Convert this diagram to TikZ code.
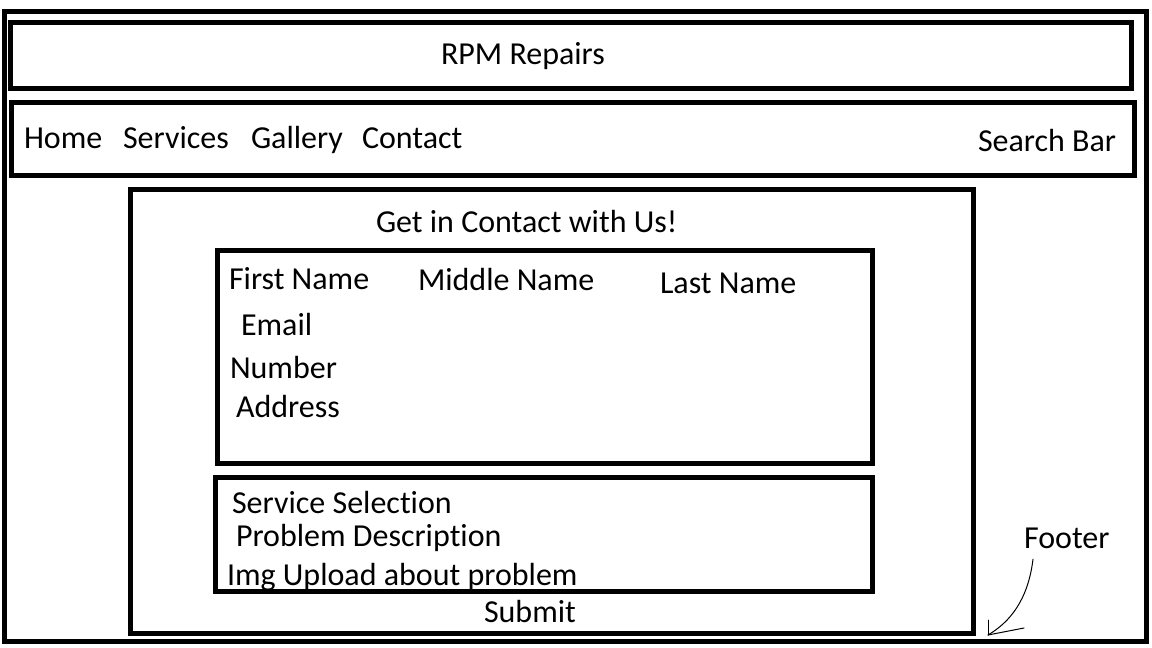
\documentclass[tikz,border=0pt]{standalone}
\usepackage{fontspec}
\setmainfont[Ligatures=NoCommon]{Carlito}
\usepackage[usenames]{xcolor}
\usetikzlibrary{calc,positioning}

\begin{document}
\begin{tikzpicture}[x=1pt,y=-1pt,
  boxline/.style={draw=drawColor,line width= 5.0pt,line join=miter},
  label/.style={text=drawColor,anchor=base west,inner sep=0pt, outer sep=0pt,
    font=\fontsize{32}{36}\selectfont},
  pointer/.style={draw=drawColor,line width= 1.0pt,line join=round,line cap=round}]
\definecolor{fillColor}{RGB}{255,255,255}
\definecolor{drawColor}{RGB}{0,0,0}
\path[use as bounding box,fill=fillColor] (0,0) rectangle (1152,648);

% frames
\path[boxline] (   4.0, 11.0) rectangle (1146.0,641.0);
\path[boxline] (  10.5, 22.0) rectangle (1131.5, 88.0);
\path[boxline] (  11.5,102.5) rectangle (1134.5,175.5);
\path[boxline] ( 130.5,189.5) rectangle ( 973.5,633.5);
\path[boxline] ( 217.5,250.5) rectangle ( 872.0,463.5);
\path[boxline] ( 215.5,477.5) rectangle ( 872.0,591.5);

% header and menu
\node[label] (title) at ( 441, 64) {RPM Repairs};
\node[label] (home) at (  24,148) {Home};
\node[label] (services) at ( 123,148) {Services};
\node[label] (gallery) at ( 251,148) {Gallery};
\node[label] (contact) at ( 362,148) {Contact};
\node[label] (search) at ( 978,151) {Search Bar};

% form
\node[label] (heading) at ( 376,232) {Get in Contact with Us!};
\node[label] (first) at ( 229,289) {First Name};
\node[label] (middle) at ( 418,290) {Middle Name};
\node[label] (last) at ( 660,293) {Last Name};
\node[label] (email) at ( 241,335) {Email};
\node[label] (number) at ( 230,378) {Number};
\node[label] (address) at ( 236,417) {Address};
\node[label] (selection) at ( 232,513) {Service Selection};
\node[label] (problem) at ( 236,546) {Problem Description};
\node[label] (upload) at ( 227,585) {Img Upload about problem};
\node[label] (submit) at ( 484,622) {Submit};

% footer pointer
\node[label] (footer) at (1024,548) {Footer};
\coordinate (tip) at ( 988,635);
\path[pointer] ($(footer.south west)+(9,11)$) .. controls (1028,600) and (1010,622) .. (tip);
\path[pointer] (tip) -- ++(  0,-15);
\path[pointer] (tip) -- ++( 36, -7);
\end{tikzpicture}
\end{document}
